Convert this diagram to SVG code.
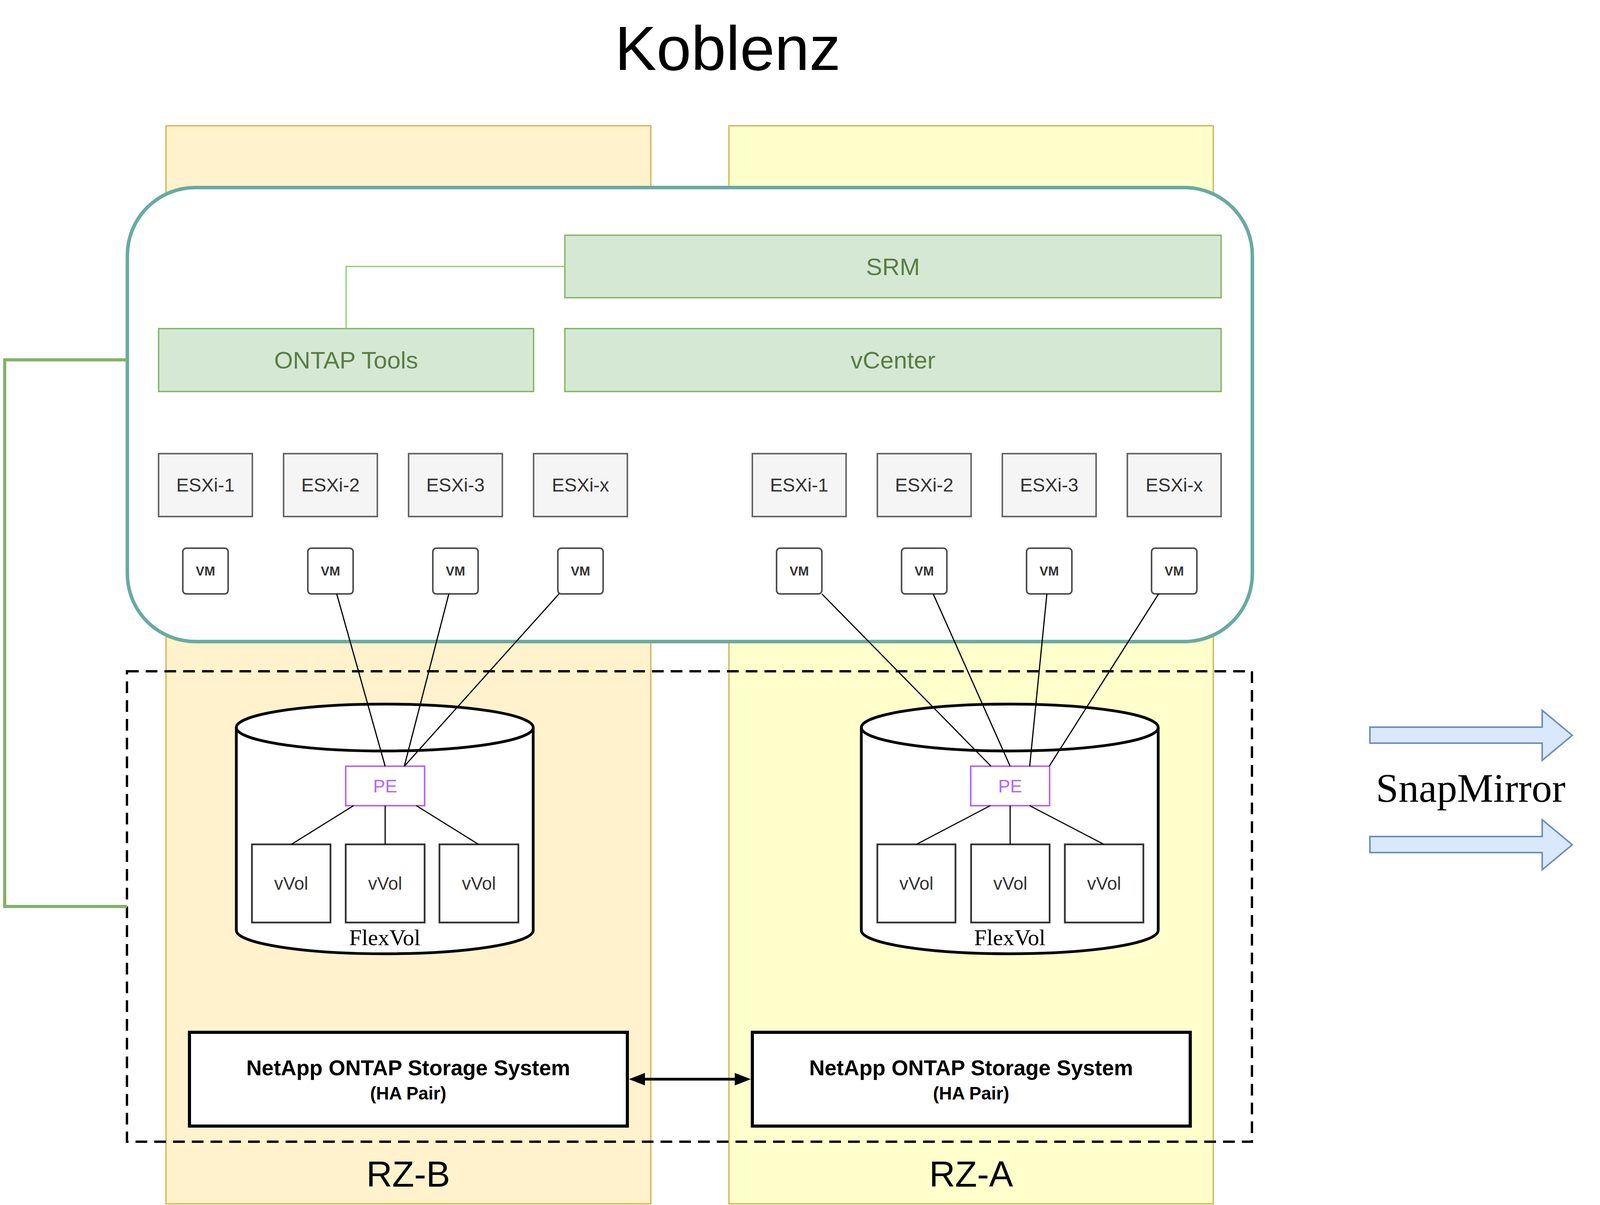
<svg xmlns="http://www.w3.org/2000/svg" width="7536" height="3084" viewBox="0 0 7536 3084">
<style>
.col{stroke:#d6b656;stroke-width:3.5}
.site{fill:#ffffff;stroke:#67ab9f;stroke-width:9}
.dash{fill:none;stroke:#000;stroke-width:6;stroke-dasharray:30 18}
.gbox{fill:#d5e8d4;stroke:#82b366;stroke-width:3.5}
.gtxt{font-family:"Liberation Sans",Arial,sans-serif;font-size:62px;fill:#5a7d45;text-anchor:middle}
.esx{fill:#f5f5f5;stroke:#666666;stroke-width:4}
.etxt{font-family:"Liberation Sans",Arial,sans-serif;font-size:48px;fill:#333333;text-anchor:middle}
.vm{fill:#ffffff;stroke:#4d4d4d;stroke-width:4}
.vtxt{font-family:"Liberation Sans",Arial,sans-serif;font-size:33px;font-weight:bold;fill:#333333;text-anchor:middle}
.cyl{fill:#ffffff;stroke:#000;stroke-width:7}
.cylf{fill:none;stroke:#000;stroke-width:7}
.pe{fill:#ffffff;stroke:#b266ff;stroke-width:4}
.petxt{font-family:"Liberation Sans",Arial,sans-serif;font-size:46px;fill:#b266ff;text-anchor:middle}
.vvol{fill:#ffffff;stroke:#333333;stroke-width:4.5}
.vvtxt{font-family:"Liberation Sans",Arial,sans-serif;font-size:46px;fill:#333333;text-anchor:middle}
.flex{font-family:"Liberation Serif","Times New Roman",serif;font-size:58px;fill:#000;text-anchor:middle}
.net{fill:#ffffff;stroke:#000;stroke-width:8}
.ntxt1{font-family:"Liberation Sans",Arial,sans-serif;font-size:55px;font-weight:bold;fill:#000;text-anchor:middle}
.ntxt2{font-family:"Liberation Sans",Arial,sans-serif;font-size:46px;font-weight:bold;fill:#000;text-anchor:middle}
.rz{font-family:"Liberation Sans",Arial,sans-serif;font-size:92px;fill:#000;text-anchor:middle}
.title{font-family:"Liberation Sans",Arial,sans-serif;font-size:160px;fill:#000;text-anchor:middle}
.ln{fill:none;stroke:#000;stroke-width:3}
.lt{fill:none;stroke:#97d077;stroke-width:3.5}
.gl{fill:none;stroke:#82b366;stroke-width:8}
.dbl{fill:none;stroke:#000;stroke-width:7;marker-start:url(#ah);marker-end:url(#ah)}
.big{fill:#dae8fc;stroke:#6c8ebf;stroke-width:4}
.snap{font-family:"Liberation Serif","Times New Roman",serif;font-size:104px;fill:#000;text-anchor:middle}
</style>
<defs>
<marker id="ah" markerUnits="userSpaceOnUse" markerWidth="42" markerHeight="34" refX="0" refY="16" orient="auto-start-reverse" overflow="visible">
<path d="M0,0 L41,16 L0,32 Z" fill="#000"/>
</marker>
</defs>
<rect width="7536" height="3084" fill="#ffffff"/>

<g id="titles">
<text class="title" x="1863" y="179">Koblenz</text>
<text class="title" x="5825" y="179">Frankfurt</text>
</g>

<g id="rz-b"><rect class="col" x="425" y="322" width="1241" height="2759" fill="#fff2cc"/><text class="rz" x="1045" y="3037">RZ-B</text></g>
<g id="rz-a"><rect class="col" x="1866" y="322" width="1240" height="2759" fill="#ffffcc"/><text class="rz" x="2486" y="3037">RZ-A</text></g>
<g id="rz-d"><rect class="col" x="4425" y="322" width="1240" height="2759" fill="#ccccff"/><text class="rz" x="5045" y="3037">RZ-D</text></g>
<g id="rz-c"><rect class="col" x="5866" y="322" width="1239" height="2759" fill="#ccffff"/><text class="rz" x="6486" y="3037">RZ-C</text></g>

<g id="site-koblenz"><rect class="site" x="326" y="480" width="2880" height="1162" rx="174" ry="174"/></g>
<g id="site-frankfurt"><rect class="site" x="4326" y="480" width="2880" height="1162" rx="174" ry="174"/></g>

<g id="storage-koblenz"><rect class="dash" x="325" y="1718" width="2880" height="1204"/></g>
<g id="storage-frankfurt"><rect class="dash" x="4325" y="1718" width="2880" height="1204"/></g>

<g id="k-srm"><rect class="gbox" x="1446" y="602" width="1680" height="160"/><text class="gtxt" x="2286" y="704">SRM</text></g>
<g id="k-ontap"><rect class="gbox" x="406" y="841" width="960" height="161"/><text class="gtxt" x="886" y="943">ONTAP Tools</text></g>
<g id="k-vcenter"><rect class="gbox" x="1446" y="841" width="1680" height="161"/><text class="gtxt" x="2286" y="943">vCenter</text></g>

<g id="f-srm"><rect class="gbox" x="4406" y="563" width="1680" height="159"/><text class="gtxt" x="5246" y="664">SRM</text></g>
<g id="f-vcenter"><rect class="gbox" x="4406" y="802" width="1680" height="160"/><text class="gtxt" x="5246" y="904">vCenter</text></g>
<g id="f-ontap"><rect class="gbox" x="6166" y="802" width="960" height="160"/><text class="gtxt" x="6646" y="904">ONTAP Tools</text></g>

<g id="k-esxi">
<g id="k-esxi-b1"><rect class="esx" x="406" y="1161" width="240" height="161"/><text class="etxt" x="526" y="1258">ESXi-1</text></g>
<g id="k-esxi-b2"><rect class="esx" x="726" y="1161" width="240" height="161"/><text class="etxt" x="846" y="1258">ESXi-2</text></g>
<g id="k-esxi-b3"><rect class="esx" x="1046" y="1161" width="240" height="161"/><text class="etxt" x="1166" y="1258">ESXi-3</text></g>
<g id="k-esxi-bx"><rect class="esx" x="1366" y="1161" width="240" height="161"/><text class="etxt" x="1486" y="1258">ESXi-x</text></g>
<g id="k-esxi-a1"><rect class="esx" x="1926" y="1161" width="240" height="161"/><text class="etxt" x="2046" y="1258">ESXi-1</text></g>
<g id="k-esxi-a2"><rect class="esx" x="2246" y="1161" width="240" height="161"/><text class="etxt" x="2366" y="1258">ESXi-2</text></g>
<g id="k-esxi-a3"><rect class="esx" x="2566" y="1161" width="240" height="161"/><text class="etxt" x="2686" y="1258">ESXi-3</text></g>
<g id="k-esxi-ax"><rect class="esx" x="2886" y="1161" width="240" height="161"/><text class="etxt" x="3006" y="1258">ESXi-x</text></g>
</g>
<g id="f-esxi">
<g id="f-esxi-d1"><rect class="esx" x="4406" y="1161" width="240" height="161"/><text class="etxt" x="4526" y="1258">ESXi-1</text></g>
<g id="f-esxi-d2"><rect class="esx" x="4726" y="1161" width="240" height="161"/><text class="etxt" x="4846" y="1258">ESXi-2</text></g>
<g id="f-esxi-d3"><rect class="esx" x="5046" y="1161" width="240" height="161"/><text class="etxt" x="5166" y="1258">ESXi-3</text></g>
<g id="f-esxi-dx"><rect class="esx" x="5366" y="1161" width="240" height="161"/><text class="etxt" x="5486" y="1258">ESXi-x</text></g>
<g id="f-esxi-c1"><rect class="esx" x="5926" y="1161" width="240" height="161"/><text class="etxt" x="6046" y="1258">ESXi-1</text></g>
<g id="f-esxi-c2"><rect class="esx" x="6246" y="1161" width="240" height="161"/><text class="etxt" x="6366" y="1258">ESXi-2</text></g>
<g id="f-esxi-c3"><rect class="esx" x="6566" y="1161" width="240" height="161"/><text class="etxt" x="6686" y="1258">ESXi-3</text></g>
<g id="f-esxi-cx"><rect class="esx" x="6886" y="1161" width="240" height="161"/><text class="etxt" x="7006" y="1258">ESXi-x</text></g>
</g>

<g id="k-vms">
<g id="k-vm-b1"><rect class="vm" x="468" y="1403" width="116" height="117" rx="9"/><text class="vtxt" x="526" y="1473">VM</text></g>
<g id="k-vm-b2"><rect class="vm" x="788" y="1403" width="116" height="117" rx="9"/><text class="vtxt" x="846" y="1473">VM</text></g>
<g id="k-vm-b3"><rect class="vm" x="1108" y="1403" width="116" height="117" rx="9"/><text class="vtxt" x="1166" y="1473">VM</text></g>
<g id="k-vm-bx"><rect class="vm" x="1428" y="1403" width="116" height="117" rx="9"/><text class="vtxt" x="1486" y="1473">VM</text></g>
<g id="k-vm-a1"><rect class="vm" x="1988" y="1403" width="116" height="117" rx="9"/><text class="vtxt" x="2046" y="1473">VM</text></g>
<g id="k-vm-a2"><rect class="vm" x="2308" y="1403" width="116" height="117" rx="9"/><text class="vtxt" x="2366" y="1473">VM</text></g>
<g id="k-vm-a3"><rect class="vm" x="2628" y="1403" width="116" height="117" rx="9"/><text class="vtxt" x="2686" y="1473">VM</text></g>
<g id="k-vm-ax"><rect class="vm" x="2948" y="1403" width="116" height="117" rx="9"/><text class="vtxt" x="3006" y="1473">VM</text></g>
</g>
<g id="f-vms">
<g id="f-vm-d1"><rect class="vm" x="4468" y="1403" width="116" height="117" rx="9"/><text class="vtxt" x="4526" y="1473">VM</text></g>
<g id="f-vm-d2"><rect class="vm" x="4788" y="1403" width="116" height="117" rx="9"/><text class="vtxt" x="4846" y="1473">VM</text></g>
<g id="f-vm-d3"><rect class="vm" x="5108" y="1403" width="116" height="117" rx="9"/><text class="vtxt" x="5166" y="1473">VM</text></g>
<g id="f-vm-dx"><rect class="vm" x="5428" y="1403" width="116" height="117" rx="9"/><text class="vtxt" x="5486" y="1473">VM</text></g>
<g id="f-vm-c1"><rect class="vm" x="5988" y="1403" width="116" height="117" rx="9"/><text class="vtxt" x="6046" y="1473">VM</text></g>
<g id="f-vm-c2"><rect class="vm" x="6308" y="1403" width="116" height="117" rx="9"/><text class="vtxt" x="6366" y="1473">VM</text></g>
<g id="f-vm-c3"><rect class="vm" x="6628" y="1403" width="116" height="117" rx="9"/><text class="vtxt" x="6686" y="1473">VM</text></g>
<g id="f-vm-cx"><rect class="vm" x="6948" y="1403" width="116" height="117" rx="9"/><text class="vtxt" x="7006" y="1473">VM</text></g>
</g>

<g id="flexvol-b">
<path class="cyl" d="M605,1862 A380,60 0 0 1 1365,1862 L1365,2381 A380,60 0 0 1 605,2381 Z"/>
<path class="cylf" d="M605,1862 A380,60 0 0 0 1365,1862"/>
<text class="flex" x="985" y="2419">FlexVol</text>
<g id="pe-b"><rect class="pe" x="885" y="1961" width="202" height="101"/><text class="petxt" x="986" y="2028">PE</text></g>
<g id="vvol-b1"><rect class="vvol" x="645" y="2161" width="201" height="200"/><text class="vvtxt" x="745.5" y="2277">vVol</text></g>
<g id="vvol-b2"><rect class="vvol" x="885" y="2161" width="202" height="200"/><text class="vvtxt" x="986" y="2277">vVol</text></g>
<g id="vvol-b3"><rect class="vvol" x="1125" y="2161" width="202" height="200"/><text class="vvtxt" x="1226" y="2277">vVol</text></g>
</g>
<g id="flexvol-a">
<path class="cyl" d="M2205,1862 A380,60 0 0 1 2965,1862 L2965,2381 A380,60 0 0 1 2205,2381 Z"/>
<path class="cylf" d="M2205,1862 A380,60 0 0 0 2965,1862"/>
<text class="flex" x="2585" y="2419">FlexVol</text>
<g id="pe-a"><rect class="pe" x="2485" y="1961" width="202" height="101"/><text class="petxt" x="2586" y="2028">PE</text></g>
<g id="vvol-a1"><rect class="vvol" x="2246" y="2161" width="200" height="200"/><text class="vvtxt" x="2346" y="2277">vVol</text></g>
<g id="vvol-a2"><rect class="vvol" x="2486" y="2161" width="201" height="200"/><text class="vvtxt" x="2586.5" y="2277">vVol</text></g>
<g id="vvol-a3"><rect class="vvol" x="2726" y="2161" width="201" height="200"/><text class="vvtxt" x="2826.5" y="2277">vVol</text></g>
</g>
<g id="flexvol-d">
<path class="cyl" d="M4605,1862 A380,60 0 0 1 5365,1862 L5365,2381 A380,60 0 0 1 4605,2381 Z"/>
<path class="cylf" d="M4605,1862 A380,60 0 0 0 5365,1862"/>
<text class="flex" x="4985" y="2419">FlexVol</text>
<g id="pe-d"><rect class="pe" x="4885" y="1961" width="202" height="101"/><text class="petxt" x="4986" y="2028">PE</text></g>
<g id="vvol-d1"><rect class="vvol" x="4645" y="2161" width="202" height="200"/><text class="vvtxt" x="4746" y="2277">vVol</text></g>
<g id="vvol-d2"><rect class="vvol" x="4885" y="2161" width="202" height="200"/><text class="vvtxt" x="4986" y="2277">vVol</text></g>
<g id="vvol-d3"><rect class="vvol" x="5125" y="2161" width="202" height="200"/><text class="vvtxt" x="5226" y="2277">vVol</text></g>
</g>
<g id="flexvol-c">
<path class="cyl" d="M6205,1862 A380,60 0 0 1 6965,1862 L6965,2381 A380,60 0 0 1 6205,2381 Z"/>
<path class="cylf" d="M6205,1862 A380,60 0 0 0 6965,1862"/>
<text class="flex" x="6585" y="2419">FlexVol</text>
<g id="pe-c"><rect class="pe" x="6486" y="1961" width="200" height="101"/><text class="petxt" x="6586" y="2028">PE</text></g>
<g id="vvol-c1"><rect class="vvol" x="6246" y="2161" width="201" height="200"/><text class="vvtxt" x="6346.5" y="2277">vVol</text></g>
<g id="vvol-c2"><rect class="vvol" x="6486" y="2161" width="200" height="200"/><text class="vvtxt" x="6586" y="2277">vVol</text></g>
<g id="vvol-c3"><rect class="vvol" x="6726" y="2161" width="201" height="200"/><text class="vvtxt" x="6826.5" y="2277">vVol</text></g>
</g>

<g id="netapp-b"><rect class="net" x="485" y="2642" width="1121" height="240"/><text class="ntxt1" x="1045" y="2752">NetApp ONTAP Storage System</text><text class="ntxt2" x="1045" y="2814">(HA Pair)</text></g>
<g id="netapp-a"><rect class="net" x="1926" y="2642" width="1121" height="240"/><text class="ntxt1" x="2486" y="2752">NetApp ONTAP Storage System</text><text class="ntxt2" x="2486" y="2814">(HA Pair)</text></g>
<g id="netapp-d"><rect class="net" x="4485" y="2642" width="1121" height="240"/><text class="ntxt1" x="5045" y="2752">NetApp ONTAP Storage System</text><text class="ntxt2" x="5045" y="2814">(HA Pair)</text></g>
<g id="netapp-c"><rect class="net" x="5926" y="2642" width="1121" height="240"/><text class="ntxt1" x="6486" y="2752">NetApp ONTAP Storage System</text><text class="ntxt2" x="6486" y="2814">(HA Pair)</text></g>

<g id="snapmirror">
<path class="big" d="M3507,1861 L3948,1861 L3948,1818 L4025,1882 L3948,1946 L3948,1902 L3507,1902 Z"/>
<path class="big" d="M3507,2141 L3948,2141 L3948,2098 L4025,2162 L3948,2226 L3948,2182 L3507,2182 Z"/>
<text class="snap" x="3765" y="2052">SnapMirror</text>
</g>

<g id="connectors">
<polyline class="lt" points="1446,682 886,682 886,841"/>
<polyline class="lt" points="6086,642 6646,642 6646,802"/>
<polyline class="gl" points="326,921 12,921 12,2320 325,2320"/>
<polyline class="gl" points="7206,1061 7524,1061 7524,2156 7205,2156"/>
<line class="ln" x1="862" y1="1520" x2="986" y2="1961"/>
<line class="ln" x1="1149" y1="1520" x2="1035" y2="1961"/>
<line class="ln" x1="1431" y1="1520" x2="1035" y2="1961"/>
<line class="ln" x1="2104" y1="1520" x2="2537" y2="1961"/>
<line class="ln" x1="2389" y1="1520" x2="2586" y2="1961"/>
<line class="ln" x1="2680" y1="1520" x2="2636" y2="1961"/>
<line class="ln" x1="2966" y1="1520" x2="2686" y2="1961"/>
<line class="ln" x1="4576" y1="1520" x2="4937" y2="1961"/>
<line class="ln" x1="4863" y1="1520" x2="4986" y2="1961"/>
<line class="ln" x1="5151" y1="1520" x2="5036" y2="1961"/>
<line class="ln" x1="5432" y1="1520" x2="5036" y2="1961"/>
<line class="ln" x1="6105" y1="1520" x2="6537" y2="1961"/>
<line class="ln" x1="6392" y1="1520" x2="6585" y2="1961"/>
<line class="ln" x1="6680" y1="1520" x2="6636" y2="1961"/>
<line class="ln" x1="6967" y1="1520" x2="6685" y2="1961"/>
<line class="ln" x1="905" y1="2062" x2="746" y2="2161"/>
<line class="ln" x1="986" y1="2062" x2="986" y2="2161"/>
<line class="ln" x1="1066" y1="2062" x2="1225" y2="2161"/>
<line class="ln" x1="2535" y1="2062" x2="2346" y2="2161"/>
<line class="ln" x1="2586" y1="2062" x2="2586" y2="2161"/>
<line class="ln" x1="2636" y1="2062" x2="2826" y2="2161"/>
<line class="ln" x1="4905" y1="2062" x2="4746" y2="2161"/>
<line class="ln" x1="4986" y1="2062" x2="4986" y2="2161"/>
<line class="ln" x1="5068" y1="2062" x2="5226" y2="2161"/>
<line class="ln" x1="6536" y1="2062" x2="6346" y2="2161"/>
<line class="ln" x1="6586" y1="2062" x2="6586" y2="2161"/>
<line class="ln" x1="6636" y1="2062" x2="6826" y2="2161"/>
<line class="dbl" x1="1651" y1="2762" x2="1881" y2="2762"/>
<line class="dbl" x1="5651" y1="2762" x2="5881" y2="2762"/>
</g>
</svg>
